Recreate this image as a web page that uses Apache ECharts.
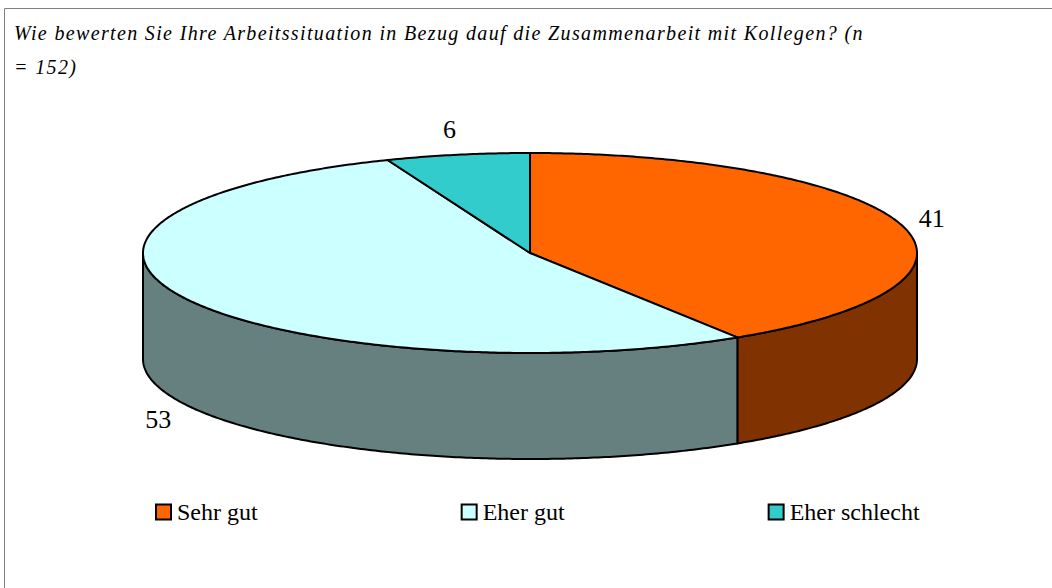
<!DOCTYPE html>
<html>
<head>
<meta charset="utf-8">
<style>
  html, body { margin: 0; padding: 0; background: #fff; overflow: hidden; }
  #main { width: 1052px; height: 588px; }
  /* title is tracked out in the original */
  #main text[style*="italic"] { letter-spacing: 1.35px; }
</style>
<script src="https://cdn.jsdelivr.net/npm/echarts@6/dist/echarts.min.js"></script>
</head>
<body>
<div id="main"></div>
<script>
const titleLines = [
  'Wie bewerten Sie Ihre Arbeitssituation in Bezug dauf die Zusammenarbeit mit Kollegen? (n',
  '= 152)',
];
const categories = ['Sehr gut', 'Eher gut', 'Eher schlecht'];
const values = [41, 53, 6];
const topColors = ['#FF6600', '#CCFFFF', '#33CCCC'];
const sideColors = ['#803300', '#668080', '#1A6666'];

// disc geometry
const cx = 530, cy = 253, rx = 387, ry = 100, depth = 106;
// label nudge from the rim point at the middle of each slice
const labelOffsets = [[30, -7], [-27, 121], [-8, -25]];

const total = values.reduce((a, b) => a + b, 0);

function rim(theta, dy) {
  // theta in radians, clockwise from 12 o'clock
  return [cx + rx * Math.sin(theta), cy - ry * Math.cos(theta) + (dy || 0)];
}

function arcPoints(a, b, dy) {
  const n = Math.max(2, Math.ceil(Math.abs(b - a) / 0.01));
  const pts = [];
  for (let i = 0; i <= n; i++) pts.push(rim(a + (b - a) * i / n, dy));
  return pts;
}

function makeRenderItem(index) {
  return function (params, api) {
    const before = values.slice(0, index).reduce((a, b) => a + b, 0);
    const a = before / total * Math.PI * 2;
    const b = a + api.value(0) / total * Math.PI * 2;
    const line = { stroke: '#000', lineWidth: 2, lineJoin: 'round' };
    const children = [];

    // outer wall, only the part facing the viewer
    const fa = Math.max(a, Math.PI / 2);
    const fb = Math.min(b, Math.PI * 1.5);
    if (fb > fa) {
      const top = arcPoints(fa, fb, 0);
      const bottom = arcPoints(fa, fb, depth).reverse();
      children.push({
        type: 'polygon',
        shape: { points: top.concat(bottom) },
        style: Object.assign({ fill: sideColors[index] }, line),
      });
    }

    children.push({
      type: 'polygon',
      shape: { points: [[cx, cy]].concat(arcPoints(a, b, 0)) },
      style: Object.assign({ fill: topColors[index] }, line),
    });

    const mid = rim((a + b) / 2, 0);
    children.push({
      type: 'text',
      style: {
        x: mid[0] + labelOffsets[index][0],
        y: mid[1] + labelOffsets[index][1],
        text: String(api.value(0)),
        fill: '#000',
        font: '26px "Liberation Serif"',
        align: 'center',
        verticalAlign: 'middle',
      },
    });
    return { type: 'group', children: children };
  };
}

const chart = echarts.init(document.getElementById('main'), null, { renderer: 'svg' });

chart.setOption({
  animation: false,
  backgroundColor: '#fff',
  graphic: [
    {
      type: 'rect',
      silent: true,
      shape: { x: 4.5, y: 8.5, width: 1100, height: 700 },
      style: { fill: 'none', stroke: '#808080', lineWidth: 1 },
    },
  ],
  title: {
    text: titleLines.join('\n'),
    left: 14,
    top: 16,
    padding: 0,
    textStyle: {
      fontFamily: 'Liberation Serif',
      fontStyle: 'italic',
      fontWeight: 'normal',
      fontSize: 20,
      lineHeight: 34,
      color: '#000',
    },
  },
  legend: {
    left: 155,
    top: 500,
    padding: 0,
    itemGap: 203,
    itemWidth: 15,
    itemHeight: 15,
    icon: 'rect',
    selectedMode: false,
    data: categories,
    textStyle: {
      fontFamily: 'Liberation Serif',
      fontSize: 24,
      color: '#000',
      padding: [0, 0, 0, 1],
    },
  },
  series: categories.map((name, i) => ({
    type: 'custom',
    name: name,
    coordinateSystem: 'none',
    silent: true,
    z: 2 + i,
    data: [[values[i]]],
    itemStyle: { color: topColors[i], borderColor: '#000', borderWidth: 3 },
    renderItem: makeRenderItem(i),
  })),
});
</script>
</body>
</html>
